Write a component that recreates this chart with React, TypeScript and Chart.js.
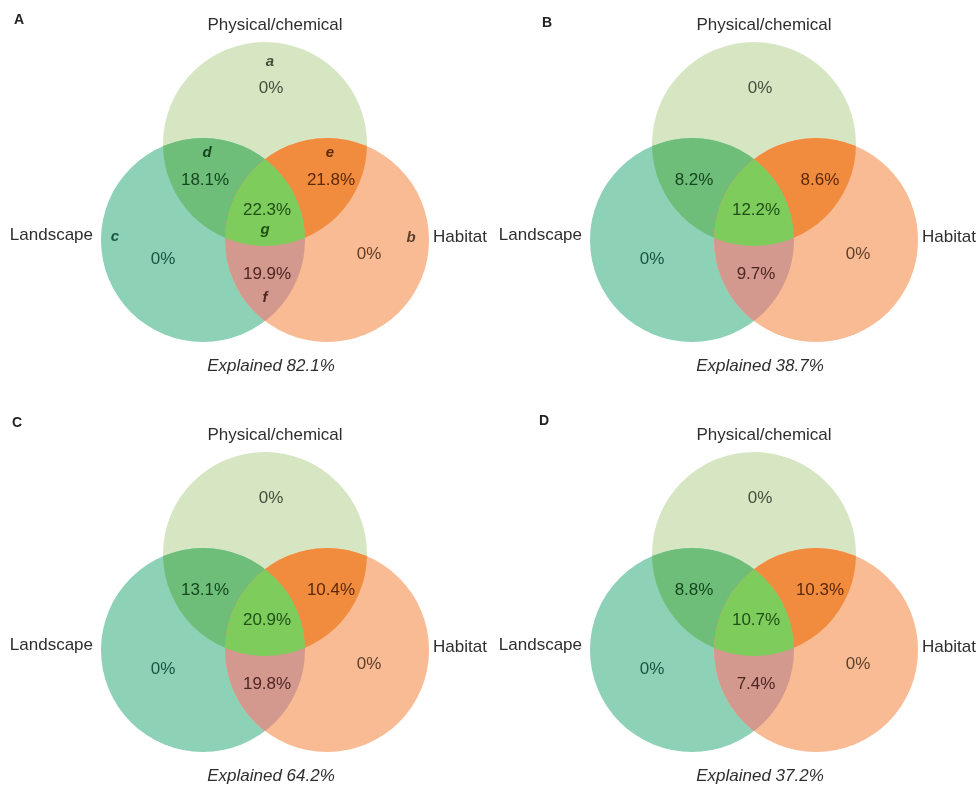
import React, { useEffect, useRef } from "react";
import { Chart, registerables } from "chart.js";

Chart.register(...registerables);

// ---------- data ----------
const panelLetters = ["A", "B", "C", "D"];
const setNames = ["Physical/chemical", "Landscape", "Habitat"];
// region order: top only, left only, right only, top∩left, top∩right, left∩right, all three
const regionKeys = ["top", "left", "right", "topLeft", "topRight", "leftRight", "center"];
const regionLetters = ["a", "c", "b", "d", "e", "f", "g"];
const panelAValues = [0, 0, 0, 18.1, 21.8, 19.9, 22.3];
const panelBValues = [0, 0, 0, 8.2, 8.6, 9.7, 12.2];
const panelCValues = [0, 0, 0, 13.1, 10.4, 19.8, 20.9];
const panelDValues = [0, 0, 0, 8.8, 10.3, 7.4, 10.7];
const explainedValues = [82.1, 38.7, 64.2, 37.2];
const panelValues = [panelAValues, panelBValues, panelCValues, panelDValues];

// ---------- layout (unit = circle radius) ----------
const PANEL_W = 489;
const PANEL_H = 377;
const PANEL_POS = [
  [0, 0],
  [489, 0],
  [0, 410],
  [489, 410],
];
const X_MIN = -2.598;
const X_MAX = 2.196;
const Y_MIN = -1.657;
const Y_MAX = 2.039;
const RADIUS = 1;
const CIRCLES = [
  [0, 0.627],
  [-0.608, -0.314],
  [0.608, -0.314],
];
const REGION_LABEL_POS = [
  [0.059, 1.176],
  [-1.0, -0.5],
  [1.02, -0.45],
  [-0.588, 0.275],
  [0.647, 0.275],
  [0.02, -0.647],
  [0.02, -0.02],
];
const REGION_LETTER_POS = [
  [0.049, 1.431],
  [-1.471, -0.284],
  [1.431, -0.294],
  [-0.569, 0.539],
  [0.637, 0.539],
  [0.0, -0.882],
  [0.0, -0.216],
];
const LETTER_POS = [
  [-2.412, 1.843],
  [-2.029, 1.814],
  [-2.431, 1.912],
  [-2.059, 1.931],
];
const TOP_LABEL = [0.098, 1.794];
const LEFT_LABEL = [-1.686, -0.265];
const RIGHT_LABEL = [1.647, -0.284];
const EXPLAINED_LABEL = [0.059, -1.549];

const REGION_COLORS = [
  "rgb(214,230,194)",
  "rgb(141,209,182)",
  "rgb(248,187,147)",
  "rgb(110,190,121)",
  "rgb(241,140,62)",
  "rgb(211,152,142)",
  "rgb(126,204,92)",
];
const REGION_TEXT_COLORS = [
  "rgb(70,78,60)",
  "rgb(25,85,62)",
  "rgb(95,62,42)",
  "rgb(22,70,32)",
  "rgb(90,40,10)",
  "rgb(78,38,34)",
  "rgb(30,80,22)",
];
const FONT = '"Liberation Sans", Arial, Helvetica, sans-serif';
const LABEL_COLOR = "#2e2e2e";

function fmt(v: number) {
  return v === 0 ? "0%" : v.toFixed(1) + "%";
}

function makeVennPlugin(index: number) {
  return {
    id: "venn" + index,
    beforeDatasetsDraw(chart: any) {
      const { ctx, scales } = chart;
      const xs = scales.x;
      const ys = scales.y;
      const rpx = xs.getPixelForValue(RADIUS) - xs.getPixelForValue(0);
      const circ = (i: number) => {
        const p = new Path2D();
        p.arc(xs.getPixelForValue(CIRCLES[i][0]), ys.getPixelForValue(CIRCLES[i][1]), rpx, 0, Math.PI * 2);
        return p;
      };
      const T = circ(0);
      const L = circ(1);
      const R = circ(2);
      ctx.save();
      ctx.fillStyle = REGION_COLORS[0];
      ctx.fill(T);
      ctx.fillStyle = REGION_COLORS[1];
      ctx.fill(L);
      ctx.fillStyle = REGION_COLORS[2];
      ctx.fill(R);
      // top ∩ left
      ctx.save();
      ctx.clip(T);
      ctx.fillStyle = REGION_COLORS[3];
      ctx.fill(L);
      ctx.restore();
      // top ∩ right
      ctx.save();
      ctx.clip(T);
      ctx.fillStyle = REGION_COLORS[4];
      ctx.fill(R);
      ctx.restore();
      // left ∩ right
      ctx.save();
      ctx.clip(L);
      ctx.fillStyle = REGION_COLORS[5];
      ctx.fill(R);
      ctx.restore();
      // all three
      ctx.save();
      ctx.clip(T);
      ctx.clip(L);
      ctx.fillStyle = REGION_COLORS[6];
      ctx.fill(R);
      ctx.restore();
      ctx.restore();
    },
    afterDatasetsDraw(chart: any) {
      const { ctx, scales } = chart;
      const xs = scales.x;
      const ys = scales.y;
      const px = (p: number[]) => [xs.getPixelForValue(p[0]), ys.getPixelForValue(p[1])];
      const meta = chart.getDatasetMeta(0);
      const vals = panelValues[index];
      ctx.save();
      ctx.textBaseline = "middle";
      ctx.textAlign = "center";
      ctx.font = `17px ${FONT}`;
      meta.data.forEach((el: any, i: number) => {
        ctx.fillStyle = REGION_TEXT_COLORS[i];
        ctx.fillText(fmt(vals[i]), el.x, el.y);
      });
      if (index === 0) {
        ctx.font = `italic bold 15px ${FONT}`;
        regionLetters.forEach((l, i) => {
          const [x, y] = px(REGION_LETTER_POS[i]);
          ctx.fillStyle = REGION_TEXT_COLORS[i];
          ctx.fillText(l, x, y);
        });
      }
      ctx.fillStyle = LABEL_COLOR;
      ctx.font = `17px ${FONT}`;
      let [x, y] = px(TOP_LABEL);
      ctx.fillText(setNames[0], x, y);
      [x, y] = px(LEFT_LABEL);
      ctx.textAlign = "right";
      ctx.fillText(setNames[1], x, y);
      [x, y] = px(RIGHT_LABEL);
      ctx.textAlign = "left";
      ctx.fillText(setNames[2], x, y);
      ctx.textAlign = "center";
      ctx.font = `italic 17px ${FONT}`;
      [x, y] = px(EXPLAINED_LABEL);
      ctx.fillText(`Explained ${explainedValues[index].toFixed(1)}%`, x, y);
      ctx.font = `bold 14px ${FONT}`;
      ctx.fillStyle = "#222";
      [x, y] = px(LETTER_POS[index]);
      ctx.fillText(panelLetters[index], x, y);
      ctx.restore();
    },
  };
}

function VennPanel({ index }: { index: number }) {
  const ref = useRef<HTMLCanvasElement>(null);
  useEffect(() => {
    const vals = panelValues[index];
    const chart = new Chart(ref.current as HTMLCanvasElement, {
      type: "scatter",
      data: {
        datasets: [
          {
            label: "regions",
            data: REGION_LABEL_POS.map((p, i) => ({ x: p[0], y: p[1], v: vals[i], key: regionKeys[i] })) as any,
            pointRadius: 0,
            pointHoverRadius: 0,
          },
        ],
      },
      options: {
        responsive: false,
        animation: false,
        events: [],
        layout: { padding: 0 },
        plugins: { legend: { display: false }, tooltip: { enabled: false } },
        scales: {
          x: { type: "linear", min: X_MIN, max: X_MAX, display: false },
          y: { type: "linear", min: Y_MIN, max: Y_MAX, display: false },
        },
      },
      plugins: [makeVennPlugin(index)],
    });
    return () => chart.destroy();
  }, [index]);
  return (
    <canvas
      ref={ref}
      width={PANEL_W}
      height={PANEL_H}
      style={{
        position: "absolute",
        left: PANEL_POS[index][0],
        top: PANEL_POS[index][1],
        width: PANEL_W,
        height: PANEL_H,
      }}
    />
  );
}

export default function App() {
  return (
    <div style={{ position: "absolute", left: 0, top: 0, width: 978, height: 787, background: "#fff" }}>
      {[0, 1, 2, 3].map((i) => (
        <VennPanel key={i} index={i} />
      ))}
    </div>
  );
}
